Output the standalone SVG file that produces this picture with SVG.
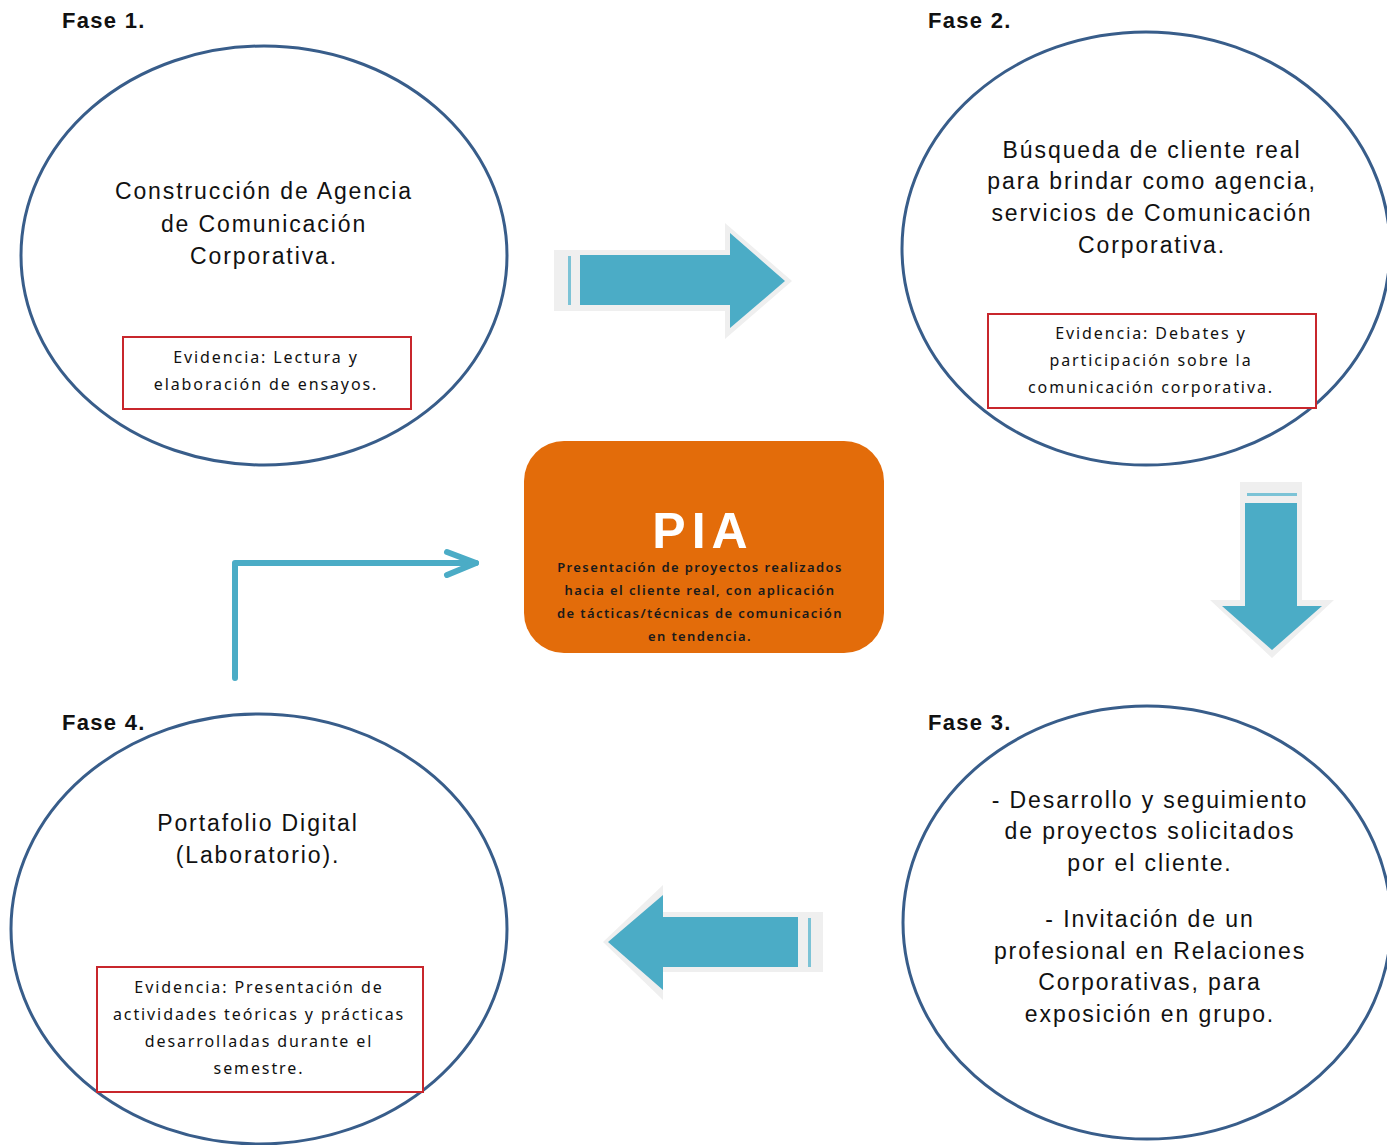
<svg xmlns="http://www.w3.org/2000/svg" width="1387" height="1145" viewBox="0 0 1387 1145">
<style>
.phase{fill:#fff;stroke:#385D8A;stroke-width:3}
.fase{font-family:"Liberation Sans",Arial,sans-serif;font-weight:bold;font-size:22px;fill:#111;letter-spacing:1.3px}
.main{font-family:"Liberation Sans",Arial,sans-serif;font-size:23px;fill:#111;letter-spacing:1.9px;text-anchor:middle}
.ev{fill:#fff;stroke:#C8262C;stroke-width:2}
.evt{font-family:"Noto Sans","Open Sans",sans-serif;font-size:16px;fill:#111;letter-spacing:1.9px;text-anchor:middle}
.back{fill:#EFEFEF}
.arr{fill:#4BACC6}
.thin{fill:#7CC3D6}
.pia-t{font-family:"Noto Sans","Open Sans",sans-serif;font-size:13px;font-weight:600;fill:#1a1a1a;letter-spacing:1.4px;text-anchor:middle}
</style>
<rect width="1387" height="1145" fill="#fff"/>

<g id="fase1">
<text class="fase" x="62" y="28">Fase 1.</text>
<ellipse class="phase" cx="264" cy="255.5" rx="243" ry="209.5"/>
<text class="main" x="264" y="199" letter-spacing="2.2">Construcción de Agencia</text>
<text class="main" x="264" y="232" letter-spacing="2.2">de Comunicación</text>
<text class="main" x="264" y="264" letter-spacing="2.2">Corporativa.</text>
<rect class="ev" x="123" y="337" width="288" height="72"/>
<text class="evt" x="266" y="363">Evidencia: Lectura y</text>
<text class="evt" x="266" y="390">elaboración de ensayos.</text>
</g>

<g id="fase2">
<text class="fase" x="928" y="28">Fase 2.</text>
<ellipse class="phase" cx="1146" cy="248.5" rx="244" ry="216.5"/>
<text class="main" x="1152" y="158">Búsqueda de cliente real</text>
<text class="main" x="1152" y="189">para brindar como agencia,</text>
<text class="main" x="1152" y="221">servicios de Comunicación</text>
<text class="main" x="1152" y="253">Corporativa.</text>
<rect class="ev" x="988" y="314" width="328" height="94"/>
<text class="evt" x="1151" y="339">Evidencia: Debates y</text>
<text class="evt" x="1151" y="366">participación sobre la</text>
<text class="evt" x="1151" y="393">comunicación corporativa.</text>
</g>

<g id="fase3">
<text class="fase" x="928" y="730">Fase 3.</text>
<ellipse class="phase" cx="1147" cy="922.5" rx="244" ry="216.5"/>
<text class="main" x="1150" y="808" letter-spacing="1.6">- Desarrollo y seguimiento</text>
<text class="main" x="1150" y="839" letter-spacing="1.6">de proyectos solicitados</text>
<text class="main" x="1150" y="871" letter-spacing="1.6">por el cliente.</text>
<text class="main" x="1150" y="927" letter-spacing="1.6">- Invitación de un</text>
<text class="main" x="1150" y="959" letter-spacing="1.6">profesional en Relaciones</text>
<text class="main" x="1150" y="990" letter-spacing="1.6">Corporativas, para</text>
<text class="main" x="1150" y="1022" letter-spacing="1.6">exposición en grupo.</text>
</g>

<g id="fase4">
<text class="fase" x="62" y="730">Fase 4.</text>
<ellipse class="phase" cx="259" cy="929" rx="248" ry="215"/>
<text class="main" x="258" y="831" letter-spacing="2.1">Portafolio Digital</text>
<text class="main" x="258" y="863" letter-spacing="2.1">(Laboratorio).</text>
<rect class="ev" x="97" y="967" width="326" height="125"/>
<text class="evt" x="259" y="993">Evidencia: Presentación de</text>
<text class="evt" x="259" y="1020" letter-spacing="1.7">actividades teóricas y prácticas</text>
<text class="evt" x="259" y="1047">desarrolladas durante el</text>
<text class="evt" x="259" y="1074">semestre.</text>
</g>

<g id="pia">
<rect x="524" y="441" width="360" height="212" rx="40" ry="40" fill="#E36C0A"/>
<text x="703" y="548" font-family="Liberation Sans, Arial, sans-serif" font-weight="bold" font-size="50" fill="#fff" letter-spacing="6" text-anchor="middle">PIA</text>
<text class="pia-t" x="700" y="572">Presentación de proyectos realizados</text>
<text class="pia-t" x="700" y="595">hacia el cliente real,  con aplicación</text>
<text class="pia-t" x="700" y="618">de tácticas/técnicas de comunicación</text>
<text class="pia-t" x="700" y="641">en tendencia.</text>
</g>

<g id="connectors">
<polygon class="back" points="554,250 725,250 725,223 792,281 725,339 725,311 554,311"/>
<polygon class="arr" points="580,255 730,255 730,233 785,281 730,328 730,305 580,305"/>
<rect class="thin" x="568" y="256" width="3" height="49"/>

<polygon class="back" points="1240,482 1302,482 1302,600 1334,600 1272,658 1210,600 1240,600"/>
<polygon class="arr" points="1245,503 1297,503 1297,606 1322,606 1272,650 1222,606 1245,606"/>
<rect class="thin" x="1247" y="493" width="50" height="3"/>

<polygon class="back" points="603,942 663,885 663,912 823,912 823,972 663,972 663,1000"/>
<polygon class="arr" points="608,942 663,895 663,917 798,917 798,967 663,967 663,990"/>
<rect class="thin" x="808" y="918" width="3" height="49"/>

<path d="M235,678 V563 H476" fill="none" stroke="#4BACC6" stroke-width="6" stroke-linecap="round" stroke-linejoin="round"/>
<polyline points="447,552 476,563 447,575" fill="none" stroke="#4BACC6" stroke-width="6" stroke-linecap="round" stroke-linejoin="round"/>
</g>
</svg>
